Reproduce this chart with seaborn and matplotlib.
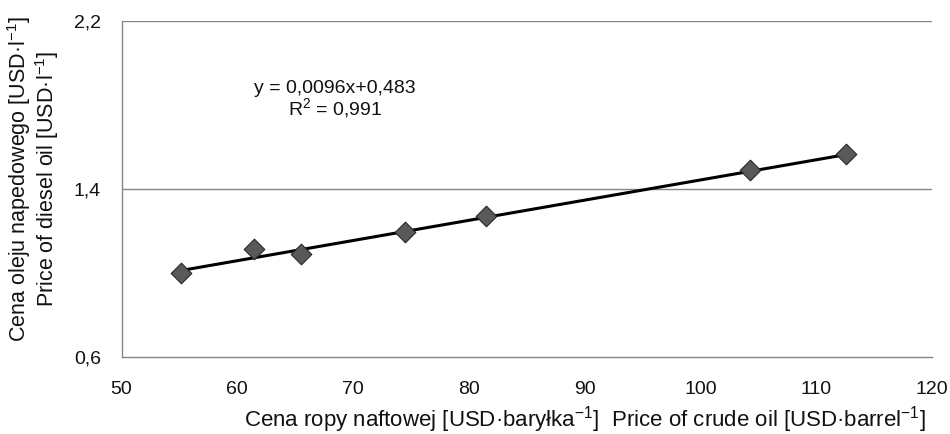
import matplotlib
matplotlib.use("Agg")
import matplotlib.pyplot as plt
from matplotlib.ticker import FuncFormatter, FixedLocator
import numpy as np
import pandas as pd
import seaborn as sns

# Crude oil price vs diesel price
crude_price = [55.1, 61.4, 65.5, 74.5, 81.5, 104.3, 112.6]
diesel_price = [1.00, 1.115, 1.093, 1.194, 1.271, 1.490, 1.567]

slope = 0.0096
intercept = 0.483
r_squared = 0.991

x_ticks = [50, 60, 70, 80, 90, 100, 110, 120]
y_ticks = [0.6, 1.4, 2.2]

sns.set_theme(style="white")
plt.rcParams["font.family"] = ["Liberation Sans", "DejaVu Sans"]
plt.rcParams["mathtext.fontset"] = "custom"
plt.rcParams["mathtext.rm"] = "Liberation Sans"
plt.rcParams["mathtext.it"] = "Liberation Sans:italic"
plt.rcParams["mathtext.default"] = "regular"

df = pd.DataFrame({"crude": crude_price, "diesel": diesel_price})
x_fit = np.array([min(crude_price), max(crude_price)])
fit = pd.DataFrame({"crude": x_fit, "diesel": slope * x_fit + intercept})

fig = plt.figure(figsize=(9.5, 4.34), dpi=100)
ax = fig.add_axes([0.128, 0.177, 0.853, 0.775])

grid_c = "#868686"
txt_c = "#111111"
for yv in y_ticks[1:]:
    ax.axhline(yv, color=grid_c, lw=1.0, zorder=0)

sns.lineplot(data=fit, x="crude", y="diesel", ax=ax, color="black", lw=2.2, zorder=2)
sns.scatterplot(data=df, x="crude", y="diesel", ax=ax, marker="D", s=110,
                color="#595959", edgecolor="#262626", linewidth=0.8, zorder=3)

ax.set_xlim(50, 120)
ax.set_ylim(0.6, 2.2)
ax.xaxis.set_major_locator(FixedLocator(x_ticks))
ax.yaxis.set_major_locator(FixedLocator(y_ticks))
ax.xaxis.set_major_formatter(FuncFormatter(lambda v, p: f"{v:.0f}"))
ax.yaxis.set_major_formatter(FuncFormatter(lambda v, p: f"{v:.1f}".replace(".", ",")))

for s in ["top", "right"]:
    ax.spines[s].set_visible(False)
for s in ["left", "bottom"]:
    ax.spines[s].set_color(grid_c)
    ax.spines[s].set_linewidth(1.0)
ax.tick_params(axis="both", direction="out", width=1.0, color=grid_c,
               labelsize=14, labelcolor=txt_c)
ax.tick_params(axis="y", length=7, pad=8)
ax.tick_params(axis="x", length=6, pad=11)

ax.set_xlabel("Cena ropy naftowej [USD·baryłka$^{-1}$]  Price of crude oil [USD·barrel$^{-1}$]",
              fontsize=16, color=txt_c)
ax.xaxis.set_label_coords(0.572, -0.140)
ax.set_ylabel("Cena oleju napedowego [USD·l$^{-1}$]\nPrice of diesel oil [USD·l$^{-1}$]",
              fontsize=15.5, color=txt_c, linespacing=1.0)
ax.yaxis.set_label_coords(-0.075, 0.53)

ax.text(0.263, 0.800, "y = 0,0096x+0,483", transform=ax.transAxes,
        ha="center", va="center", fontsize=14, color=txt_c)
ax.text(0.263, 0.740, f"R$^2$ = {r_squared:.3f}".replace(".", ","), transform=ax.transAxes,
        ha="center", va="center", fontsize=14, color=txt_c)

fig.savefig("out.png", dpi=100, facecolor="white")
